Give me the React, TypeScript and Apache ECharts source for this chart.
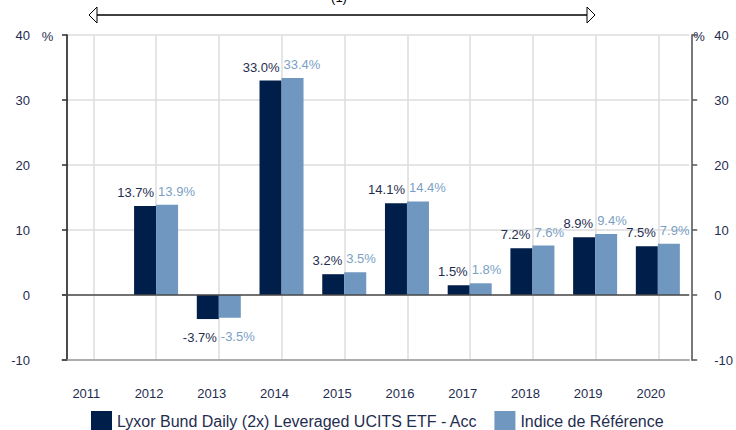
import React, { useEffect, useRef } from "react";
import * as echarts from "echarts";

const categories = ["2011", "2012", "2013", "2014", "2015", "2016", "2017", "2018", "2019", "2020"];
const fundValues: (number | null)[] = [null, 13.7, -3.7, 33.0, 3.2, 14.1, 1.5, 7.2, 8.9, 7.5];
const indexValues: (number | null)[] = [null, 13.9, -3.5, 33.4, 3.5, 14.4, 1.8, 7.6, 9.4, 7.9];
const fundName = "Lyxor Bund Daily (2x) Leveraged UCITS ETF - Acc";
const indexName = "Indice de Référence";
const yMin = -10;
const yMax = 40;
const yInterval = 10;

const FONT = 'Arial, "Liberation Sans", sans-serif';
const DARK = "#001e4a";
const LIGHT = "#6f97bf";
const TEXT = "#1f2d50";
const LIGHT_TEXT = "#7b9fc4";

function buildData(values: (number | null)[], side: "left" | "right") {
  return values.map((v) => {
    if (v == null) return null;
    const neg = v < 0;
    return {
      value: v,
      label: {
        show: true,
        position: neg ? "bottom" : "top",
        distance: neg ? 12 : 7,
        align: side === "left" ? "right" : "left",
        offset: [side === "left" ? 9 : -9, 0],
      },
    };
  });
}

export default function App() {
  const ref = useRef<HTMLDivElement>(null);
  useEffect(() => {
    if (!ref.current) return;
    const chart = echarts.init(ref.current, null, { renderer: "svg" });
    const labelFmt = (p: any) => (p.value == null ? "" : Number(p.value).toFixed(1) + "%");
    chart.setOption({
      animation: false,
      textStyle: { fontFamily: FONT },
      grid: [
        { left: 62, right: 46, top: 35, bottom: 70, containLabel: false },
        { left: 93.4, right: 77.4, top: 35, bottom: 70, containLabel: false },
      ],
      legend: {
        left: 91,
        top: 411,
        padding: 0,
        itemWidth: 21,
        itemHeight: 20,
        itemGap: 17,
        icon: "rect",
        textStyle: { fontSize: 16, color: TEXT, fontFamily: FONT },
        data: [fundName, indexName],
      },
      xAxis: [
        {
          type: "category",
          gridIndex: 0,
          data: categories,
          axisLine: { onZero: false, lineStyle: { color: "#9a9a9a", width: 1.5 } },
          axisTick: { show: false },
          axisLabel: { margin: 27, color: TEXT, fontSize: 13, fontFamily: FONT, padding: [0, 14, 0, 0] },
          splitLine: { show: false },
        },
        {
          type: "category",
          gridIndex: 1,
          data: categories,
          boundaryGap: false,
          axisLine: { show: false },
          axisTick: { show: false },
          axisLabel: { show: false },
          splitLine: { show: true, lineStyle: { color: "#dcdcdc", width: 1.5 } },
        },
      ],
      yAxis: [
        {
          type: "value",
          gridIndex: 0,
          position: "left",
          min: yMin,
          max: yMax,
          interval: yInterval,
          offset: -5,
          axisLine: { show: true, lineStyle: { color: "#111", width: 1.5 } },
          axisTick: { show: true, inside: false, length: 5, lineStyle: { color: "#333", width: 1.5 } },
          axisLabel: { margin: 37, color: TEXT, fontSize: 13, fontFamily: FONT },
          splitLine: { show: true, lineStyle: { color: "#dcdcdc", width: 1.5 } },
        },
        {
          type: "value",
          gridIndex: 0,
          position: "right",
          min: yMin,
          max: yMax,
          interval: yInterval,
          offset: 3,
          axisLine: { show: true, lineStyle: { color: "#7a7a7a", width: 2 } },
          axisTick: { show: true, inside: false, length: 5, lineStyle: { color: "#555", width: 1.5 } },
          axisLabel: { margin: 22, color: TEXT, fontSize: 13, fontFamily: FONT },
          splitLine: { show: false },
        },
        {
          type: "value",
          gridIndex: 1,
          min: yMin,
          max: yMax,
          interval: yInterval,
          show: false,
          splitLine: { show: false },
        },
      ],
      series: [
        {
          name: fundName,
          type: "bar",
          xAxisIndex: 0,
          yAxisIndex: 0,
          barWidth: 22,
          barGap: "0%",
          itemStyle: { color: DARK },
          label: { show: true, color: TEXT, fontSize: 13, fontFamily: FONT, formatter: labelFmt },
          data: buildData(fundValues, "left"),
          markLine: {
            silent: true,
            symbol: ["none", "none"],
            label: { show: false },
            lineStyle: { color: "#4a4a4a", width: 1.5, type: "solid" },
            data: [{ yAxis: 0 }],
          },
        },
        {
          name: indexName,
          type: "bar",
          xAxisIndex: 0,
          yAxisIndex: 0,
          barWidth: 22,
          barGap: "0%",
          itemStyle: { color: LIGHT },
          label: { show: true, color: LIGHT_TEXT, fontSize: 13, fontFamily: FONT, formatter: labelFmt },
          data: buildData(indexValues, "right"),
        },
      ],
      graphic: [
        {
          type: "line",
          shape: { x1: 97, y1: 15, x2: 587, y2: 15 },
          style: { stroke: "#000", lineWidth: 1.5 },
        },
        {
          type: "polygon",
          shape: { points: [[89, 15], [97, 7], [97, 23]] },
          style: { fill: "#fff", stroke: "#000", lineWidth: 1 },
        },
        {
          type: "polygon",
          shape: { points: [[595, 15], [587, 7], [587, 23]] },
          style: { fill: "#fff", stroke: "#000", lineWidth: 1 },
        },
        {
          type: "text",
          x: 339,
          y: -9,
          style: { text: "(1)", fontSize: 13, fill: "#000", align: "center", verticalAlign: "top", fontFamily: FONT },
        },
        {
          type: "text",
          x: 47.5,
          y: 36,
          style: { text: "%", fontSize: 13, fill: TEXT, align: "center", verticalAlign: "middle", fontFamily: FONT },
        },
        {
          type: "text",
          x: 699,
          y: 36,
          style: { text: "%", fontSize: 13, fill: TEXT, align: "center", verticalAlign: "middle", fontFamily: FONT },
        },
      ],
    });
    return () => chart.dispose();
  }, []);
  return <div ref={ref} style={{ width: 736, height: 430, position: "absolute", left: 0, top: 0 }} />;
}
